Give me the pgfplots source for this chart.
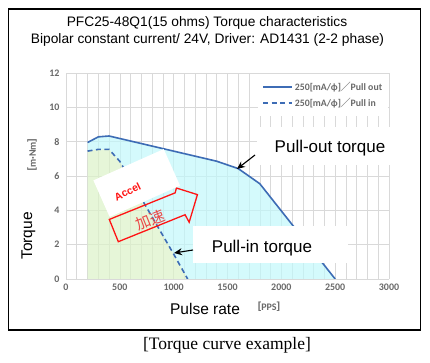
\documentclass[border=0pt]{standalone}
\usepackage{fontspec}
\setmainfont{Liberation Sans}
\newfontfamily\carlito{Carlito}
\newfontfamily\cjk{Noto Sans CJK JP}
\newfontfamily\seriffont{Liberation Serif}
\usepackage{pgfplots}
\pgfplotsset{compat=1.18}
\usetikzlibrary{arrows.meta}
\definecolor{curve}{RGB}{61,108,181}
\definecolor{fillc}{RGB}{194,248,251}
\definecolor{fillg}{RGB}{220,243,200}
\definecolor{gridc}{RGB}{217,217,217}
\definecolor{tickc}{RGB}{105,105,105}
\definecolor{accred}{RGB}{255,20,20}
\definecolor{kred}{RGB}{235,70,70}
\begin{document}
\begin{tikzpicture}[x=1pt,y=1pt]
\useasboundingbox (0,0) rectangle (430,363);
\fill[white] (0,0) rectangle (430,363);
\begin{axis}[
  at={(66pt,84pt)}, anchor=south west,
  scale only axis, width=323pt, height=206pt,
  xmin=0, xmax=3000, ymin=0, ymax=12,
  axis line style={draw=none},
  major tick length=0pt, minor tick length=0pt,
  xtick={0,500,...,3000}, minor xtick={0,100,...,3000},
  ytick={0,2,...,12},
  grid=both,
  major grid style={gridc, line width=0.6pt},
  minor grid style={gridc, line width=0.6pt},
  tick label style={font=\carlito\bfseries\fontsize{10}{11}\selectfont, text=tickc},
  /pgf/number format/assume math mode=true,
  /pgf/number format/1000 sep={},
  scaled ticks=false,
  xticklabel style={yshift=-1.5pt},
  yticklabel style={xshift=-3pt},
  legend style={at={(0.998,0.995)}, anchor=north east, draw=none, fill=white,
    font=\carlito\bfseries\fontsize{9.8}{11}\selectfont, text=tickc,
    inner xsep=4pt, inner ysep=6pt, row sep=2pt, cells={anchor=west}},
  legend image code/.code={\draw[#1] (0pt,0pt) -- (29pt,0pt);},
]
% area between pull-in and pull-out curves
\addplot[draw=none, fill=fillc, fill opacity=0.7, forget plot] coordinates {
 (200,7.95) (300,8.28) (400,8.33) (1400,6.86) (1600,6.43) (1800,5.55) (2500,0)
 (1130,0) (1000,1.45) (500,6.85) (400,7.55) (300,7.55) (200,7.45)} -- cycle;
% area under pull-in curve
\addplot[draw=none, fill=fillg, fill opacity=0.7, forget plot] coordinates {
 (200,0) (200,7.45) (300,7.55) (400,7.55) (500,6.85) (1000,1.45) (1130,0)} -- cycle;
\addplot[curve, line width=1.6pt] coordinates {
 (200,7.95) (300,8.28) (400,8.33) (1400,6.86) (1600,6.43) (1800,5.55) (2500,0)};
\addlegendentry{250[mA/ϕ]{\cjk ／}Pull out}
\addplot[curve, line width=1.6pt, dash pattern=on 5pt off 3.5pt] coordinates {
 (200,7.45) (300,7.55) (400,7.55) (500,6.85) (1000,1.45) (1130,0)};
\addlegendentry{250[mA/ϕ]{\cjk ／}Pull in}
\end{axis}
% frame
\draw[black, line width=1.3pt] (8.5,33) rectangle (420.5,354);
% titles
\node[font=\fontsize{13.75}{16}\selectfont] at (207,340.3) {PFC25-48Q1(15 ohms) Torque characteristics};
\node[font=\fontsize{13.75}{16}\selectfont] at (207.5,323) {Bipolar constant current/ 24V, Driver: AD1431 (2-2 phase)};
% axis labels
\node[font=\fontsize{15.5}{18}\selectfont] at (205,54) {Pulse rate};
\node[font=\carlito\bfseries\fontsize{10}{11}\selectfont, text=tickc] at (269,56) {{\cjk ［}PPS{\cjk ］}};
\node[font=\fontsize{15.5}{18}\selectfont, rotate=90] at (28.5,127) {Torque};
\node[font=\carlito\bfseries\fontsize{10}{11}\selectfont, text=tickc, rotate=90] at (32,208) {{\cjk ［}m·Nm{\cjk ］}};
% caption
\node[font=\seriffont\fontsize{17.5}{20}\selectfont] at (227,18) {[Torque curve example]};
% pull-out annotation
\fill[white] (257,198) rectangle (400,236);
\node[font=\fontsize{17}{20}\selectfont] at (330,215) {Pull-out torque};
\draw[-{Stealth[length=8pt,width=7pt]}, line width=1.1pt] (255,208) -- (237,194);
% pull-in annotation
\fill[white] (193,100) rectangle (348,137);
\node[font=\fontsize{17}{20}\selectfont] at (262,115) {Pull-in torque};
\draw[-{Stealth[length=8pt,width=7pt]}, line width=1.1pt] (193,113) -- (174,110);
% accel block arrow
\begin{scope}[shift={(118.3,121.3)}, rotate=22]
\draw[accred, line width=1.3pt, line join=miter] (0,0) -- (72,0) -- (73,-8.5) -- (91,14) -- (74,28) -- (71,24) -- (0,24) -- cycle;
\end{scope}
\node[font=\cjk\fontsize{15}{17}\selectfont, text=kred, rotate=22] at (150,143) {加速};
\fill[white, rotate around={24:(136.7,180)}] (98.2,160) rectangle (175.2,200);
\node[font=\bfseries\fontsize{10.5}{12}\selectfont, text=accred, rotate=26] at (127.5,171.3) {Accel};
\end{tikzpicture}
\end{document}
